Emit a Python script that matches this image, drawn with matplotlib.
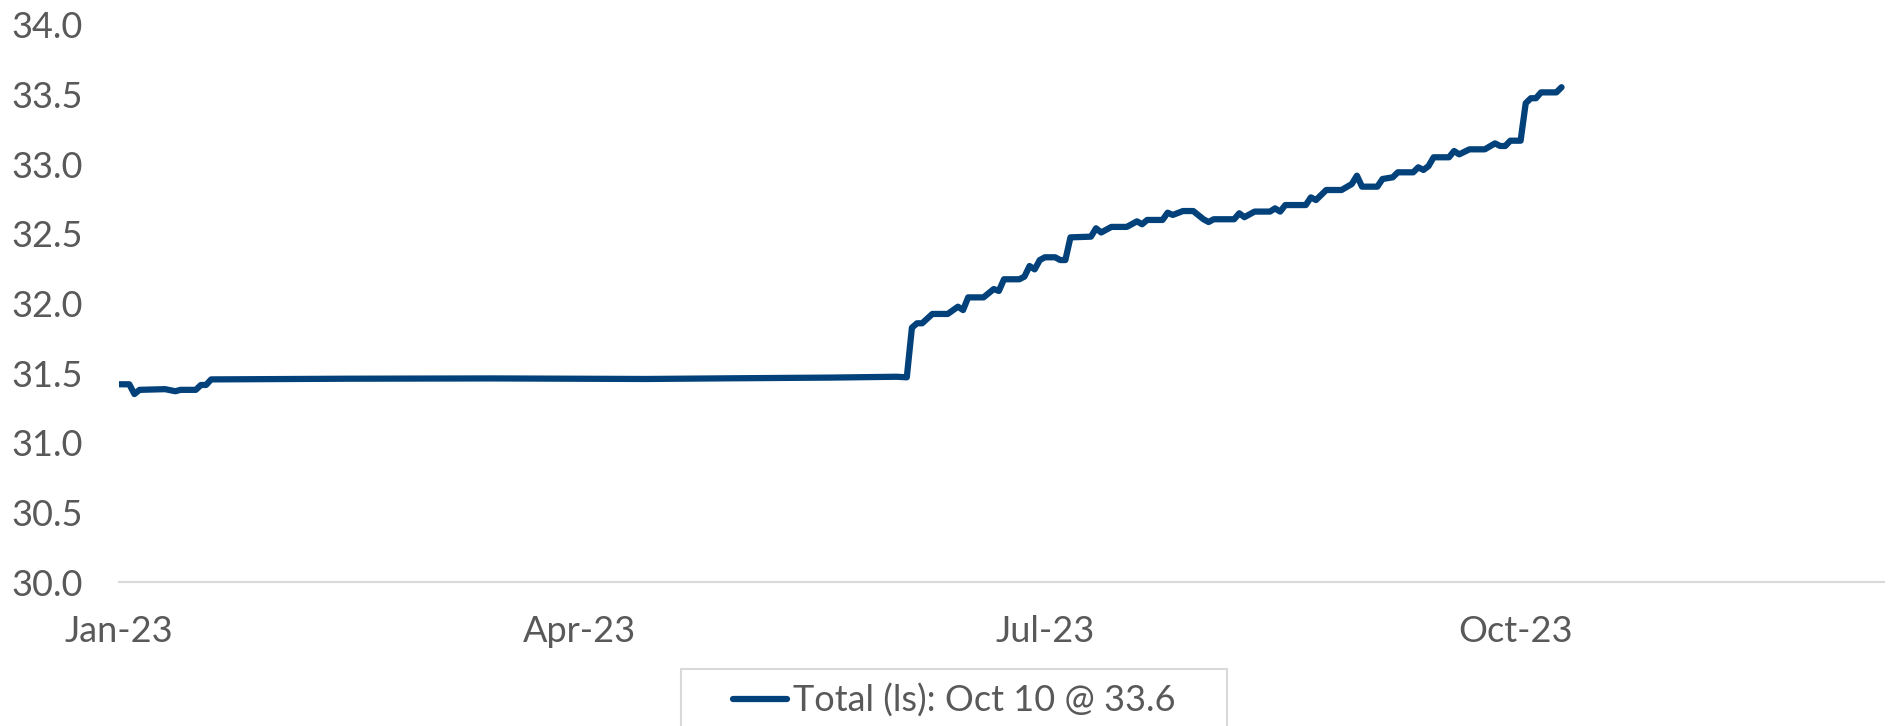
import matplotlib
matplotlib.use('Agg')
import matplotlib.pyplot as plt
import matplotlib.dates as mdates
from matplotlib.patches import Rectangle
import numpy as np
import pandas as pd

# values
dates = [
    '2023-01-01', '2023-01-03', '2023-01-04', '2023-01-05', '2023-01-10',
    '2023-01-12', '2023-01-13', '2023-01-16', '2023-01-17', '2023-01-18',
    '2023-01-19', '2023-02-15', '2023-03-15', '2023-04-14', '2023-05-01',
    '2023-05-20', '2023-06-02', '2023-06-04', '2023-06-05', '2023-06-06',
    '2023-06-07', '2023-06-09', '2023-06-12', '2023-06-14', '2023-06-15',
    '2023-06-16', '2023-06-19', '2023-06-21', '2023-06-22', '2023-06-23',
    '2023-06-26', '2023-06-27', '2023-06-28', '2023-06-29', '2023-06-30',
    '2023-07-01', '2023-07-03', '2023-07-04', '2023-07-05', '2023-07-06',
    '2023-07-10', '2023-07-11', '2023-07-12', '2023-07-14', '2023-07-17',
    '2023-07-19', '2023-07-20', '2023-07-21', '2023-07-24', '2023-07-25',
    '2023-07-26', '2023-07-28', '2023-07-30', '2023-08-01', '2023-08-02',
    '2023-08-03', '2023-08-07', '2023-08-08', '2023-08-09', '2023-08-11',
    '2023-08-14', '2023-08-15', '2023-08-16', '2023-08-17', '2023-08-21',
    '2023-08-22', '2023-08-23', '2023-08-25', '2023-08-28', '2023-08-30',
    '2023-08-31', '2023-09-01', '2023-09-04', '2023-09-05', '2023-09-07',
    '2023-09-08', '2023-09-11', '2023-09-12', '2023-09-13', '2023-09-14',
    '2023-09-15', '2023-09-18', '2023-09-19', '2023-09-20', '2023-09-22',
    '2023-09-25', '2023-09-27', '2023-09-28', '2023-09-29', '2023-09-30',
    '2023-10-02', '2023-10-03', '2023-10-04', '2023-10-05', '2023-10-06',
    '2023-10-09', '2023-10-10',
]
total = [
    31.42, 31.42, 31.35, 31.38, 31.385,
    31.37, 31.38, 31.38, 31.415, 31.415,
    31.455, 31.46, 31.462, 31.458, 31.463,
    31.468, 31.474, 31.47, 31.826, 31.858,
    31.858, 31.925, 31.925, 31.977, 31.953,
    32.044, 32.044, 32.104, 32.09, 32.174,
    32.174, 32.193, 32.269, 32.245, 32.312,
    32.332, 32.332, 32.312, 32.312, 32.475,
    32.48, 32.54, 32.51, 32.55, 32.55,
    32.59, 32.569, 32.60, 32.60, 32.652,
    32.636, 32.664, 32.664, 32.605, 32.585,
    32.605, 32.605, 32.648, 32.62, 32.66,
    32.66, 32.683, 32.66, 32.707, 32.707,
    32.762, 32.743, 32.815, 32.815, 32.858,
    32.918, 32.839, 32.839, 32.894, 32.906,
    32.942, 32.942, 32.978, 32.959, 32.987,
    33.05, 33.05, 33.095, 33.071, 33.107,
    33.107, 33.15, 33.131, 33.131, 33.169,
    33.169, 33.438, 33.474, 33.474, 33.516,
    33.516, 33.553,
]
legend_label = 'Total (ls): Oct 10 @ 33.6'
x_ticks = ['2023-01-01', '2023-04-01', '2023-07-01', '2023-10-01']
y_ticks = np.arange(30.0, 34.01, 0.5)

plt.rcParams['font.family'] = ['Lato', 'DejaVu Sans']
text_color = '#595959'
line_color = '#02417A'

fig = plt.figure(figsize=(18.9, 7.26), dpi=100)
ax = fig.add_axes([0.063, 0.1983, 0.9337, 0.7673])

ax.plot(pd.to_datetime(dates), total, color=line_color, lw=4.5,
        solid_joinstyle='round', solid_capstyle='round', label=legend_label)

ax.set_ylim(30, 34)
ax.set_yticks(y_ticks)
ax.yaxis.set_major_formatter(matplotlib.ticker.FormatStrFormatter('%.1f'))
ax.set_xlim(pd.Timestamp('2023-01-01'), pd.Timestamp('2023-12-12'))
ax.set_xticks(pd.to_datetime(x_ticks))
ax.xaxis.set_major_formatter(mdates.DateFormatter('%b-%y'))

for s in ['top', 'right', 'left']:
    ax.spines[s].set_visible(False)
ax.spines['bottom'].set_color('#D9D9D9')
ax.spines['bottom'].set_linewidth(1.5)
ax.spines['bottom'].set_zorder(0)
ax.tick_params(axis='both', length=0, labelsize=26, labelcolor=text_color)
ax.tick_params(axis='y', pad=26)
ax.tick_params(axis='x', pad=24)

leg = fig.legend(loc='upper center', bbox_to_anchor=(0.5048, 0.083),
                 frameon=False, fontsize=26, handlelength=1.5,
                 handletextpad=0.15, borderpad=0)
for t in leg.get_texts():
    t.set_color(text_color)

# legend box, wider than the text, running off the bottom edge
fig.canvas.draw()
bb = leg.get_window_extent().transformed(fig.transFigure.inverted())
pad_x = 52 / 1890
fig.patches.append(Rectangle((bb.x0 - pad_x, -0.05), bb.width + 2 * pad_x,
                             0.05 + 0.0785, transform=fig.transFigure,
                             fill=False, edgecolor='#D9D9D9', lw=1.5))

fig.savefig('out.png', dpi=100)
